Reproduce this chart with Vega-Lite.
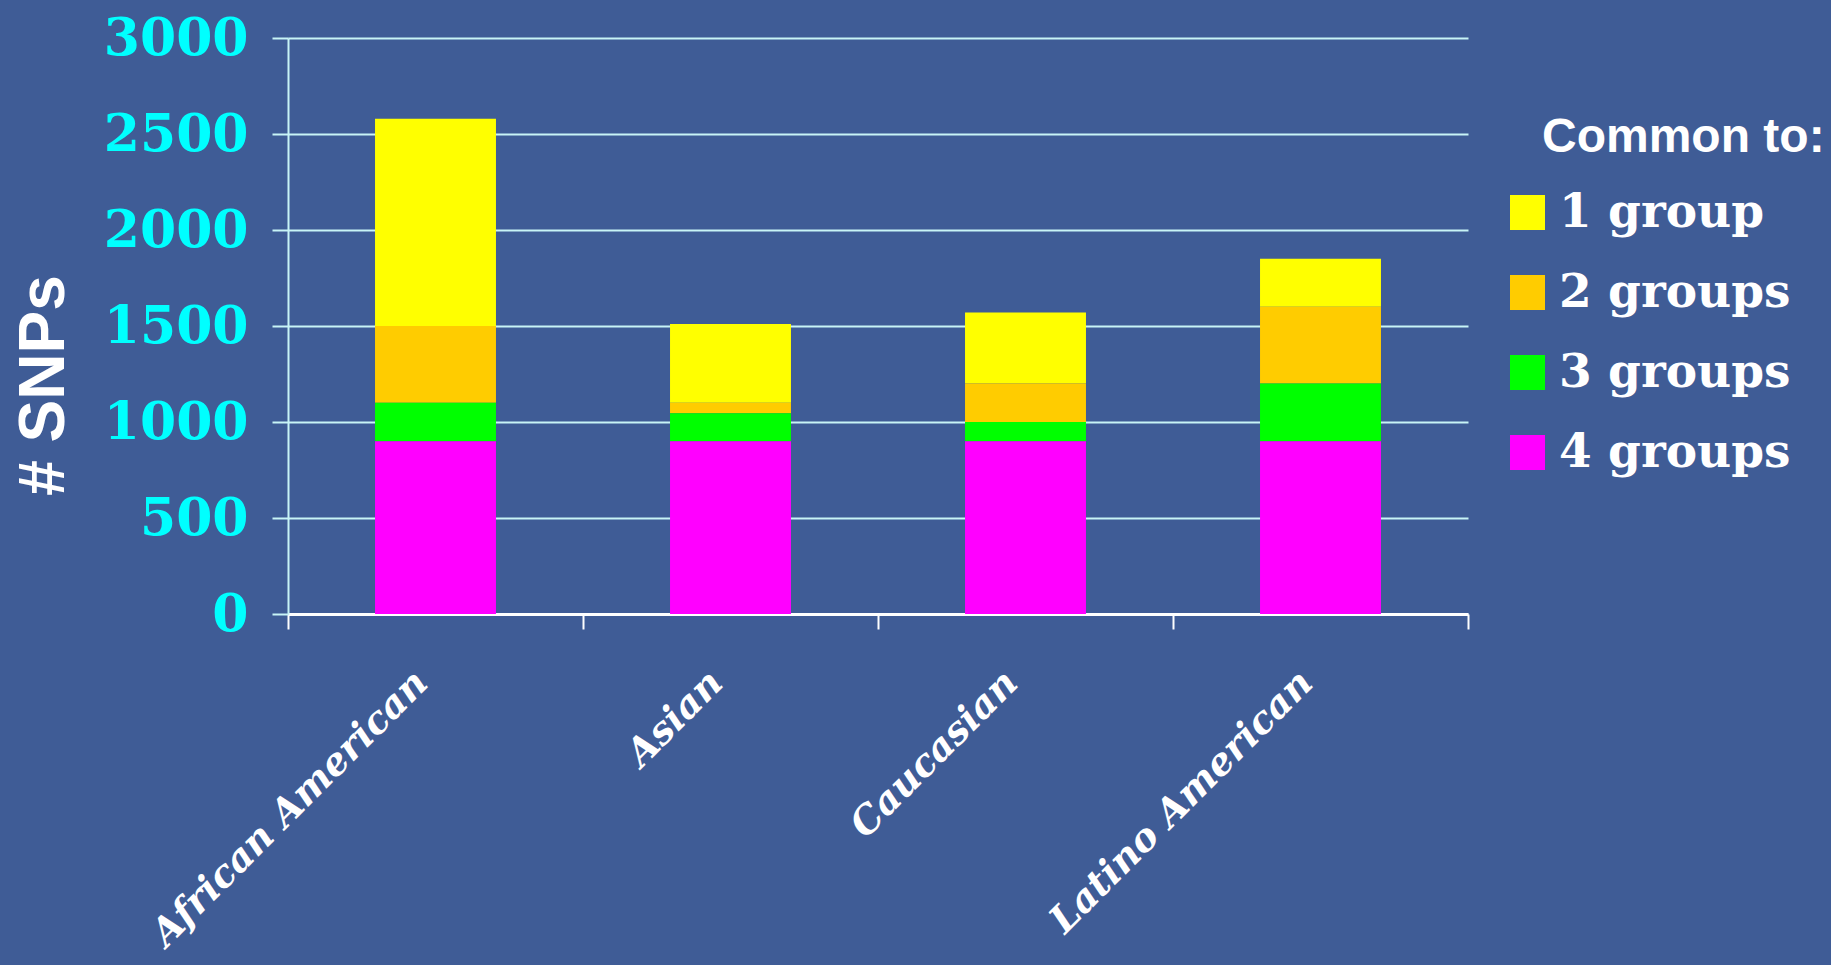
{
  "$schema": "https://vega.github.io/schema/vega-lite/v6.json",
  "autosize": {"type": "none"},
  "width": 1180,
  "height": 576,
  "padding": {"left": 288, "top": 38, "right": 363, "bottom": 351},
  "background": "#3f5c96",
  "config": {"view": {"stroke": null}},
  "data": {
    "values": [
      {"population": "African American", "common": "1 group", "k": 1, "snps": 1080},
      {"population": "African American", "common": "2 groups", "k": 2, "snps": 400},
      {"population": "African American", "common": "3 groups", "k": 3, "snps": 200},
      {"population": "African American", "common": "4 groups", "k": 4, "snps": 900},
      {"population": "Asian", "common": "1 group", "k": 1, "snps": 410},
      {"population": "Asian", "common": "2 groups", "k": 2, "snps": 55},
      {"population": "Asian", "common": "3 groups", "k": 3, "snps": 145},
      {"population": "Asian", "common": "4 groups", "k": 4, "snps": 900},
      {"population": "Caucasian", "common": "1 group", "k": 1, "snps": 370},
      {"population": "Caucasian", "common": "2 groups", "k": 2, "snps": 200},
      {"population": "Caucasian", "common": "3 groups", "k": 3, "snps": 100},
      {"population": "Caucasian", "common": "4 groups", "k": 4, "snps": 900},
      {"population": "Latino American", "common": "1 group", "k": 1, "snps": 250},
      {"population": "Latino American", "common": "2 groups", "k": 2, "snps": 400},
      {"population": "Latino American", "common": "3 groups", "k": 3, "snps": 300},
      {"population": "Latino American", "common": "4 groups", "k": 4, "snps": 900}
    ]
  },
  "mark": {"type": "bar", "width": {"band": 0.41}, "strokeWidth": 0},
  "encoding": {
    "x": {
      "field": "population",
      "type": "nominal",
      "sort": ["African American", "Asian", "Caucasian", "Latino American"],
      "scale": {"paddingInner": 0, "paddingOuter": 0},
      "axis": {
        "title": null,
        "tickBand": "extent",
        "domainColor": "#ffffff",
        "domainWidth": 3,
        "tickColor": "#ffffff",
        "tickWidth": 2,
        "tickSize": 15,
        "labelAngle": -45,
        "labelAlign": "right",
        "labelBaseline": "middle",
        "labelFont": "DejaVu Serif",
        "labelFontWeight": "bold",
        "labelFontStyle": "italic",
        "labelFontSize": 38,
        "labelColor": "#ffffff",
        "labelPadding": 48,
        "labelOffset": -14,
        "labelLimit": 600
      }
    },
    "y": {
      "field": "snps",
      "type": "quantitative",
      "stack": "zero",
      "scale": {"domain": [0, 3000], "nice": false},
      "axis": {
        "title": "# SNPs",
        "titleFont": "Liberation Sans",
        "titleFontWeight": "bold",
        "titleFontSize": 64,
        "titleColor": "#ffffff",
        "titleAngle": -90,
        "titleAlign": "center",
        "titleBaseline": "middle",
        "titleX": -244,
        "titleY": 347,
        "values": [0, 500, 1000, 1500, 2000, 2500, 3000],
        "format": "d",
        "grid": true,
        "gridColor": "#c8f4f6",
        "gridWidth": 2,
        "gridOpacity": 1,
        "domainColor": "#c8f4f6",
        "domainWidth": 2,
        "tickColor": "#c8f4f6",
        "tickWidth": 2,
        "tickSize": 16,
        "labelFont": "DejaVu Serif",
        "labelFontWeight": "bold",
        "labelFontSize": 52,
        "labelColor": "#00ffff",
        "labelPadding": 24,
        "labelBaseline": "middle"
      }
    },
    "color": {
      "field": "common",
      "type": "nominal",
      "scale": {
        "domain": ["1 group", "2 groups", "3 groups", "4 groups"],
        "range": ["#ffff00", "#ffcc00", "#00ff00", "#ff00ff"]
      },
      "legend": {
        "title": "Common to:",
        "orient": "none",
        "legendX": 1216,
        "legendY": 76,
        "padding": 0,
        "titleFont": "Liberation Sans",
        "titleFontWeight": "bold",
        "titleFontSize": 48,
        "titleColor": "#ffffff",
        "titlePadding": 27,
        "titleLimit": 600,
        "symbolType": "square",
        "symbolSize": 1225,
        "symbolStrokeWidth": 0,
        "symbolOpacity": 1,
        "labelFont": "DejaVu Serif",
        "labelFontWeight": "bold",
        "labelFontSize": 47,
        "labelColor": "#ffffff",
        "labelOffset": 8,
        "labelLimit": 600,
        "rowPadding": 32,
        "encode": {"title": {"update": {"dx": {"value": 38}}}}
      }
    },
    "order": {"field": "k", "type": "quantitative", "sort": "descending"}
  }
}
